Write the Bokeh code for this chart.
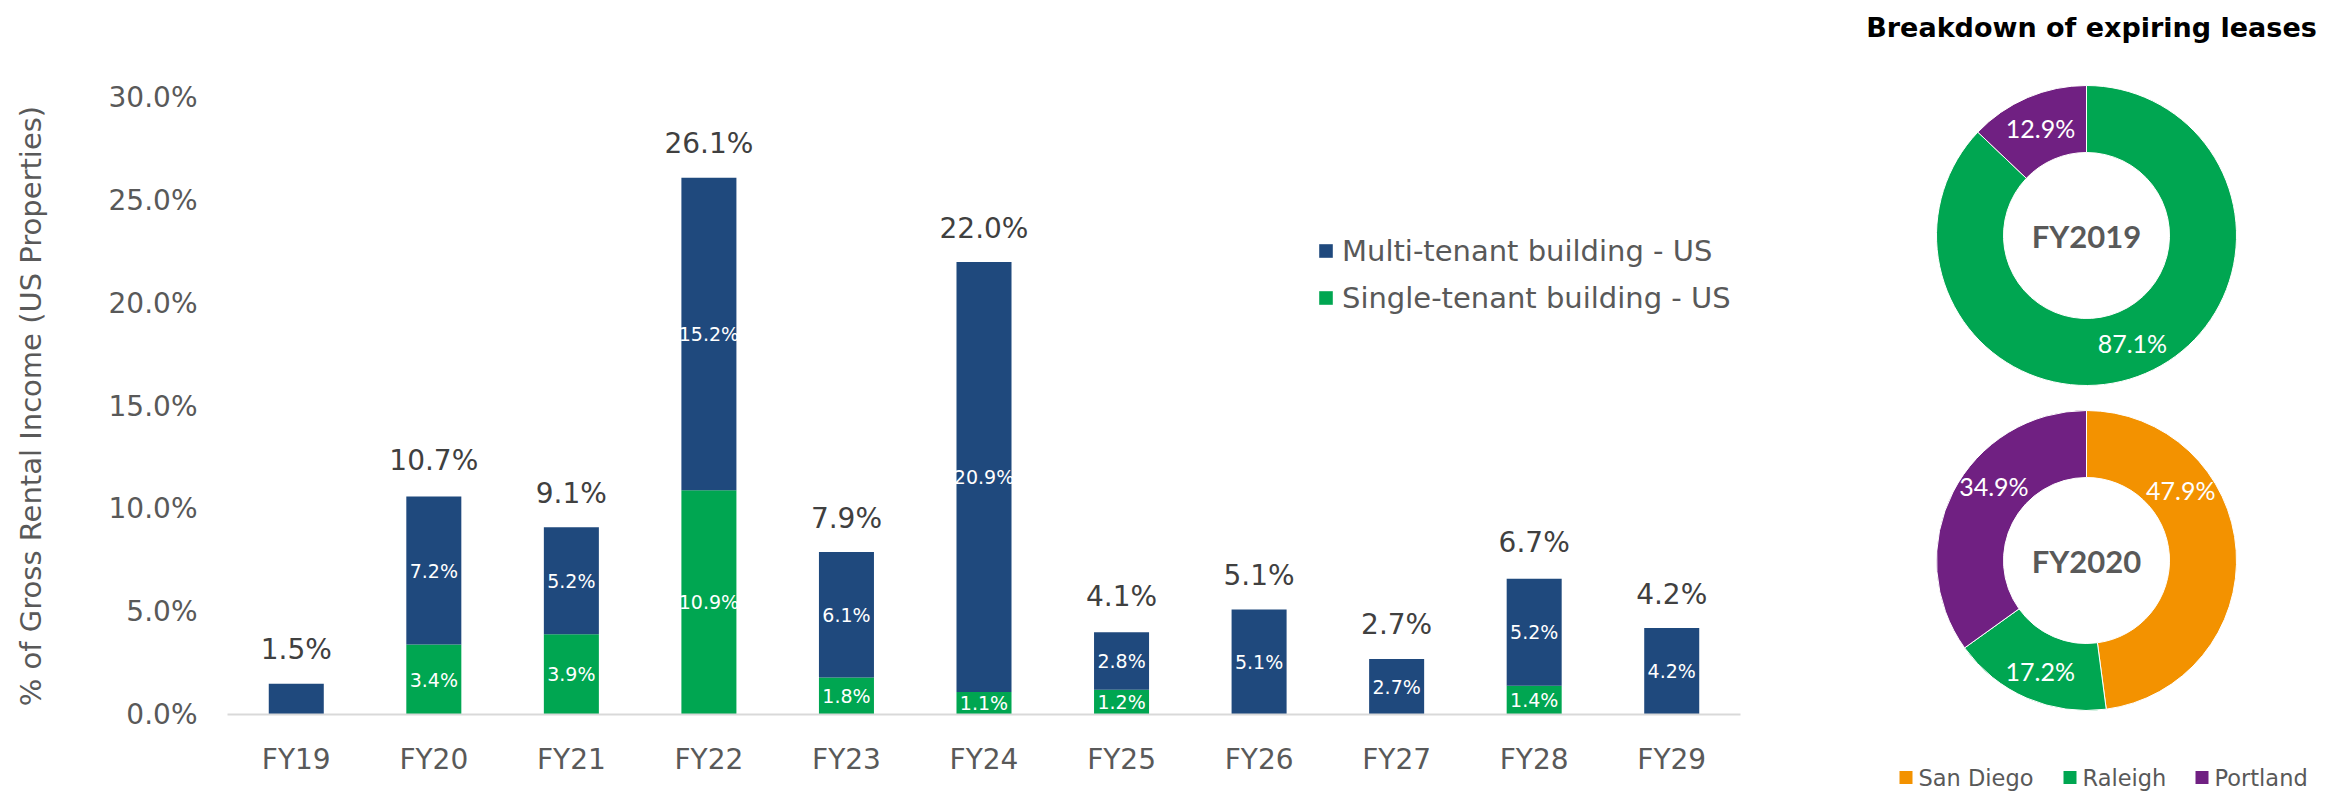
import math
from bokeh.plotting import figure
from bokeh.models import (ColumnDataSource, Range1d, FixedTicker, PrintfTickFormatter,
                          Legend, LegendItem)
from bokeh.layouts import row
from bokeh.embed import file_html
from bokeh.resources import INLINE
from bokeh.core.properties import value

# ---------------- data ----------------
years = ["FY19", "FY20", "FY21", "FY22", "FY23", "FY24", "FY25", "FY26", "FY27", "FY28", "FY29"]
multi = [1.5, 7.2, 5.2, 15.2, 6.1, 20.9, 2.8, 5.1, 2.7, 5.2, 4.2]
single = [0.0, 3.4, 3.9, 10.9, 1.8, 1.1, 1.2, 0.0, 0.0, 1.4, 0.0]
totals = [1.5, 10.7, 9.1, 26.1, 7.9, 22.0, 4.1, 5.1, 2.7, 6.7, 4.2]
multi_labels = ["", "7.2%", "5.2%", "15.2%", "6.1%", "20.9%", "2.8%", "5.1%", "2.7%", "5.2%", "4.2%"]
single_labels = ["", "3.4%", "3.9%", "10.9%", "1.8%", "1.1%", "1.2%", "", "", "1.4%", ""]
y_ticks = [0, 5, 10, 15, 20, 25, 30]
series_names = ["Multi-tenant building - US", "Single-tenant building - US"]

cities = ["San Diego", "Raleigh", "Portland"]
fy2019 = [0.0, 87.1, 12.9]
fy2020 = [47.9, 17.2, 34.9]
donut_titles = ["FY2019", "FY2020"]

# ---------------- styles ----------------
BLUE = "#1F497D"
GREEN = "#00A651"
ORANGE = "#F39200"
PURPLE = "#702082"
city_colors = [ORANGE, GREEN, PURPLE]
GREY = "#595959"
DARK = "#404040"
GOTHIC = "DejaVu Sans"
H = 791

# ---------------- bar chart ----------------
src = ColumnDataSource(dict(
    years=years, multi=multi, single=single, totals=totals,
    total_txt=["%.1f%%" % t for t in totals],
    multi_mid=[s + m / 2 for s, m in zip(single, multi)],
    single_mid=[s / 2 for s in single],
    multi_lab=multi_labels, single_lab=single_labels,
))

p = figure(width=1850, height=H, x_range=years, y_range=Range1d(0, 30),
           output_backend="svg", toolbar_location=None, frame_align=False,
           min_border_left=227, min_border_right=110, min_border_top=97, min_border_bottom=77)
p.outline_line_color = None
p.xgrid.grid_line_color = None
p.ygrid.grid_line_color = None

rs = p.vbar_stack(["single", "multi"], x="years", width=0.4, color=[GREEN, BLUE],
                  line_color=None, source=src)

p.text(x="years", y="totals", text="total_txt", source=src, text_align="center",
       text_baseline="middle", y_offset=-34, text_font=value(GOTHIC),
       text_font_size="28px", text_color=DARK)
p.text(x="years", y="multi_mid", text="multi_lab", source=src, text_align="center",
       text_baseline="middle", text_font=value(GOTHIC), text_font_size="19px",
       text_color="white")
p.text(x="years", y="single_mid", text="single_lab", source=src, text_align="center",
       text_baseline="middle", text_font=value(GOTHIC), text_font_size="19px",
       text_color="white")

yax = p.yaxis[0]
yax.ticker = FixedTicker(ticks=y_ticks)
yax.formatter = PrintfTickFormatter(format="%.1f%%")
yax.axis_line_color = None
yax.major_tick_line_color = None
yax.minor_tick_line_color = None
yax.major_label_standoff = 24
yax.major_label_text_font = GOTHIC
yax.major_label_text_font_size = "28px"
yax.major_label_text_color = GREY
yax.axis_label = "% of Gross Rental Income (US Properties)"
yax.axis_label_text_font = GOTHIC
yax.axis_label_text_font_size = "29px"
yax.axis_label_text_font_style = "normal"
yax.axis_label_text_color = GREY
yax.axis_label_standoff = 58

xax = p.xaxis[0]
xax.axis_line_color = "#D9D9D9"
xax.axis_line_width = 2
xax.major_tick_line_color = None
xax.minor_tick_line_color = None
xax.major_label_standoff = 22
xax.major_label_text_font = GOTHIC
xax.major_label_text_font_size = "28px"
xax.major_label_text_color = GREY

legend = Legend(items=[LegendItem(label=series_names[0], renderers=[rs[1]]),
                       LegendItem(label=series_names[1], renderers=[rs[0]])],
                location=(1090, 399), border_line_color=None, background_fill_alpha=0,
                glyph_width=17, glyph_height=17, label_text_font=GOTHIC,
                label_text_font_size="29px", label_text_color=GREY, spacing=12,
                padding=0, margin=0, label_standoff=8, label_height=35)
p.add_layout(legend)

# ---------------- donuts ----------------
QW = 496
q = figure(width=QW, height=H, x_range=Range1d(0, QW), y_range=Range1d(0, H),
           output_backend="svg", toolbar_location=None, min_border=0, frame_align=False,
           x_axis_location=None, y_axis_location=None)
q.outline_line_color = None
q.xgrid.grid_line_color = None
q.ygrid.grid_line_color = None

centers = [(236, H - 235), (236, H - 560)]
R_OUT, R_IN = 150, 83
nudges = [[(0, 0), (0, 0), (0, 0)], [(-22, -63), (0, 4), (11, -21)]]

for k, vals in enumerate([fy2019, fy2020]):
    cx, cy = centers[k]
    tot = sum(vals)
    starts, ends, xs, ys, labs, xo, yo = [], [], [], [], [], [], []
    cum = 0.0
    for i, v in enumerate(vals):
        a0 = cum / tot
        a1 = (cum + v) / tot
        starts.append(math.pi / 2 - 2 * math.pi * a0)
        ends.append(math.pi / 2 - 2 * math.pi * a1)
        mid = math.pi / 2 - 2 * math.pi * (a0 + a1) / 2
        rm = (R_OUT + R_IN) / 2
        xs.append(cx + rm * math.cos(mid))
        ys.append(cy + rm * math.sin(mid))
        labs.append("%.1f%%" % v if v > 0 else "")
        xo.append(nudges[k][i][0])
        yo.append(nudges[k][i][1])
        cum += v
    ds = ColumnDataSource(dict(start=starts, end=ends, color=city_colors,
                               x=[cx] * 3, y=[cy] * 3, lx=xs, ly=ys, lab=labs,
                               xo=xo, yo=yo, city=cities))
    q.annular_wedge(x="x", y="y", inner_radius=R_IN, outer_radius=R_OUT,
                    inner_radius_units="screen", outer_radius_units="screen",
                    start_angle="start", end_angle="end", direction="clock",
                    fill_color="color", line_color="white", line_width=1, source=ds)
    q.text(x="lx", y="ly", text="lab", x_offset="xo", y_offset="yo", source=ds,
           text_align="center", text_baseline="middle", text_font=value("Lato"),
           text_font_size="25px", text_color="white")
    q.text(x=[cx], y=[cy], text=[donut_titles[k]], text_align="center",
           text_baseline="middle", text_font=value("Lato"), text_font_size="31px",
           text_font_style="bold", text_color=GREY)

q.text(x=[241], y=[H - 27], text=["Breakdown of expiring leases"], text_align="center",
       text_baseline="middle", text_font=value(GOTHIC), text_font_size="27px",
       text_font_style="bold", text_color="black")

# bottom legend
leg_x = [49, 213, 345]
leg_y = H - 777
q.rect(x=[lx + 6.5 for lx in leg_x], y=[leg_y] * 3, width=13, height=13,
       width_units="screen", height_units="screen", fill_color=city_colors, line_color=None)
q.text(x=[lx + 19 for lx in leg_x], y=[leg_y] * 3, text=cities, text_align="left",
       text_baseline="middle", text_font=value(GOTHIC), text_font_size="22.5px",
       text_color=GREY)

layout = row(p, q)
open("out.html", "w").write(file_html(layout, INLINE))
